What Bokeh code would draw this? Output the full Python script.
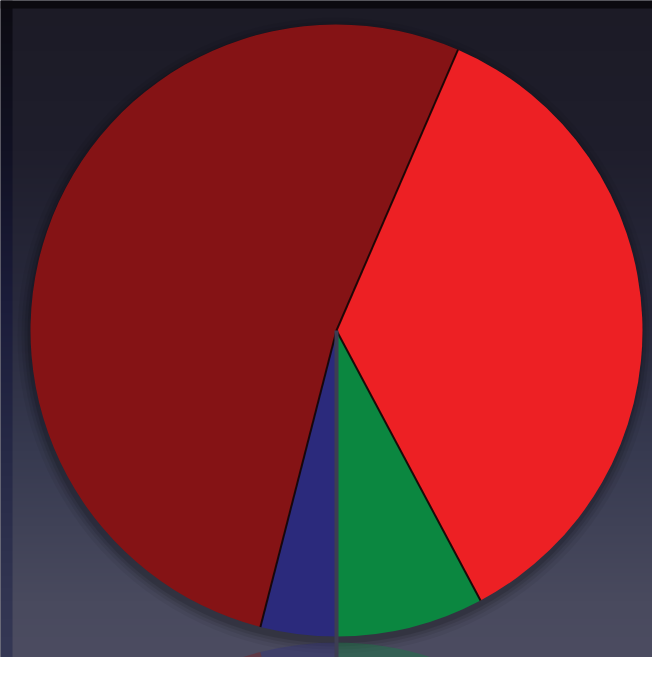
import numpy as np
from bokeh.plotting import figure
from bokeh.models import Range1d
from bokeh.embed import file_html
from bokeh.resources import INLINE

# ---- data, drawn counter-clockwise from 6 o'clock ----
categories = ["Green", "Red", "Dark red", "Blue"]
values = [7.8, 35.7, 52.5, 4.0]
colors = ["#0b8740", "#ed2024", "#851315", "#2b2a7c"]

W, H = 652, 657
PIC_H = 673
# data coords: x = picture x, y = PIC_H - picture y
p = figure(width=W, height=H, output_backend="svg", toolbar_location=None,
           x_range=Range1d(0, W), y_range=Range1d(PIC_H - H, PIC_H),
           x_axis_type=None, y_axis_type=None, min_border=0,
           outline_line_color=None, border_fill_color="#1f1d29",
           background_fill_color="#1f1d29")
p.grid.visible = False

# ---- background gradient (decoration) ----
stops_y = np.array([0, 150, 300, 450, 600, 673])           # picture y
stops_c = np.array([[28, 27, 38], [31, 30, 44], [40, 41, 60], [55, 58, 80],
                    [73, 74, 94], [77, 77, 98]])
rows = np.arange(H)
pic_y = PIC_H - (PIC_H - H + rows + 0.5)


def grad(stops):
    im = np.zeros((H, 1), dtype=np.uint32)
    v = im.view(dtype=np.uint8).reshape((H, 1, 4))
    for ch in range(3):
        v[:, 0, ch] = np.interp(pic_y, stops_y, stops[:, ch]).astype(np.uint8)
    v[:, 0, 3] = 255
    return im


p.image_rgba(image=[grad(stops_c)], x=0, y=PIC_H - H, dw=W, dh=H)

# left dark strip of the slide frame
lstops_c = np.array([[12, 11, 18], [18, 18, 36], [27, 28, 58], [38, 41, 70],
                     [50, 53, 82], [54, 57, 86]])
p.image_rgba(image=[grad(lstops_c)], x=0, y=PIC_H - H, dw=12, dh=H)
# top dark strip
p.quad(left=0, right=W, bottom=PIC_H - 8, top=PIC_H, fill_color="#0b0a0f", line_color=None)

# ---- pie geometry ----
cx, cy_pic, R = 336, 330, 306
cy = PIC_H - cy_pic
vals = np.array(values, dtype=float)
fr = vals / vals.sum()
ends = -np.pi / 2 + 2 * np.pi * np.cumsum(fr)
starts = np.concatenate([[-np.pi / 2], ends[:-1]])

# shadow
for k, a in [(12, 0.05), (8, 0.07), (5, 0.09), (2, 0.12)]:
    p.circle(x=cx - 1, y=cy - 5, radius=R + k, fill_color="black", fill_alpha=a, line_color=None)

# reflection (mirror about the pie's bottom edge)
axis_pic = cy_pic + R + 3
ry = PIC_H - (2 * axis_pic - cy_pic)
p.wedge(x=cx, y=ry, radius=R, start_angle=-ends, end_angle=-starts,
        fill_color=colors, fill_alpha=0.35, line_color=None)

# pie
p.wedge(x=cx, y=cy, radius=R, start_angle=starts, end_angle=ends,
        fill_color=colors, line_color=None)

# slice separators
p.ray(x=cx, y=cy, length=R, angle=starts[1:], line_color="#120404", line_width=2, line_alpha=0.9)
# grey divider running down from the centre
p.ray(x=cx, y=cy, length=R + 60, angle=starts[0], line_color="#3d3d52", line_width=4)

open("out.html", "w").write(file_html(p, INLINE))
